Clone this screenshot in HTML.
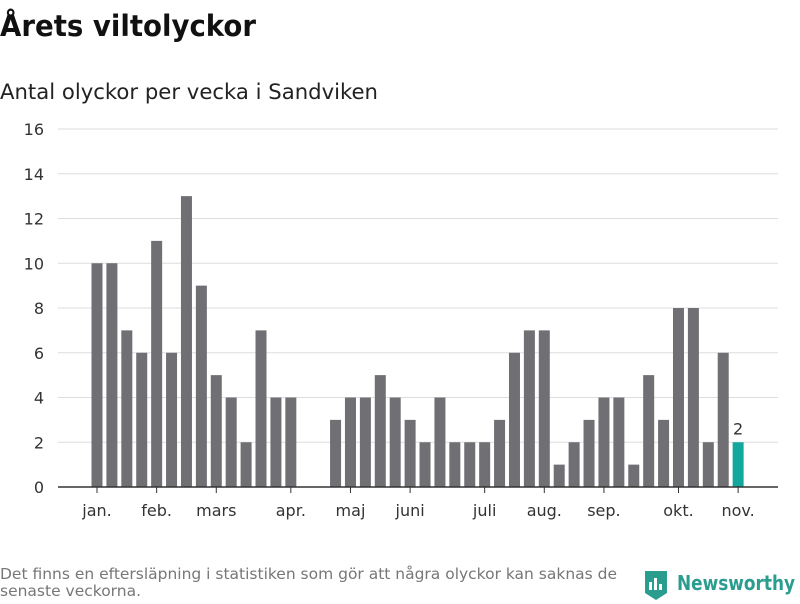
<!DOCTYPE html>
<html><head><meta charset="utf-8"><style>
body{margin:0;background:#fff;width:800px;height:600px;overflow:hidden;font-family:"DejaVu Sans","Liberation Sans",sans-serif}
</style></head><body>
<svg width="800" height="600" id="c">
<text x="0" y="36" font-size="29" font-weight="bold" fill="#111" textLength="256" lengthAdjust="spacingAndGlyphs">Årets viltolyckor</text>
<text x="0" y="99" font-size="21" fill="#222" textLength="378" lengthAdjust="spacingAndGlyphs">Antal olyckor per vecka i Sandviken</text>
<g id="grid"></g><g id="bars"></g><g id="xax"></g>
<text x="0" y="579" font-size="15.5" fill="#777" textLength="617" lengthAdjust="spacingAndGlyphs">Det finns en eftersläpning i statistiken som gör att några olyckor kan saknas de</text>
<text x="0" y="596" font-size="15.5" fill="#777">senaste veckorna.</text>
<g>
<path d="M645 571h22v22l-11 7l-11-7z" fill="#2a9d8f"/>
<rect x="649" y="582" width="3" height="8" fill="#fff"/><rect x="654" y="578" width="3" height="12" fill="#fff"/><rect x="659" y="584" width="3" height="6" fill="#fff"/>
<text x="677" y="590" font-size="20" font-weight="bold" fill="#2a9d8f" textLength="118" lengthAdjust="spacingAndGlyphs">Newsworthy</text>
</g>
</svg>
<script>
const weeks=[1,2,3,4,5,6,7,8,9,10,11,12,13,14,15,16,17,18,19,20,21,22,23,24,25,26,27,28,29,30,31,32,33,34,35,36,37,38,39,40,41,42,43,44];
const values=[10,10,7,6,11,6,13,9,5,4,2,7,4,4,0,0,3,4,4,5,4,3,2,4,2,2,2,3,6,7,7,1,2,3,4,4,1,5,3,8,8,2,6,2];
const yTicks=[0,2,4,6,8,10,12,14,16];
const monthLabels=["jan.","feb.","mars","apr.","maj","juni","juli","aug.","sep.","okt.","nov."];
const monthWeeks=[1,5,9,14,18,22,27,31,35,40,44];
const NS="http://www.w3.org/2000/svg";
const x=w=>97+(w-1)*14.91;
const y=v=>487-v*22.375;
function mk(t,a,p){const e=document.createElementNS(NS,t);for(const k in a)e.setAttribute(k,a[k]);p.appendChild(e);return e;}
const g=document.getElementById('grid'),b=document.getElementById('bars'),xa=document.getElementById('xax');
yTicks.forEach(t=>{
 const l=mk('line',{x1:58,x2:778,y1:y(t),y2:y(t),stroke:'#ddd','stroke-width':1},g);
 
 
 const tx=mk('text',{x:44,y:y(t)+6,'font-size':16,fill:'#333','text-anchor':'end'},g);tx.textContent=t;
 
 
});
weeks.forEach((w,i)=>{
 const last=i===weeks.length-1;
 const r=mk('rect',{x:x(w)-5.5,y:y(values[i]),width:11,height:487-y(values[i]),fill:last?'#13a89e':'#706f74'},b);
 
 
 if(last){const t=mk('text',{x:x(w),y:y(values[i])-8,'font-size':16,fill:'#333','text-anchor':'middle'},b);t.textContent=values[i];
 
 }
});
const ax=mk('line',{x1:58,x2:778,y1:487,y2:487,stroke:'#333','stroke-width':1.5},xa);


monthLabels.forEach((m,i)=>{
 const xx=x(monthWeeks[i]);
 const tk=mk('line',{x1:xx,x2:xx,y1:487,y2:493,stroke:'#333'},xa);
 
 
 const t=mk('text',{x:xx,y:516,'font-size':16,fill:'#333','text-anchor':'middle'},xa);t.textContent=m;
 
 
});
</script>
</body></html>
